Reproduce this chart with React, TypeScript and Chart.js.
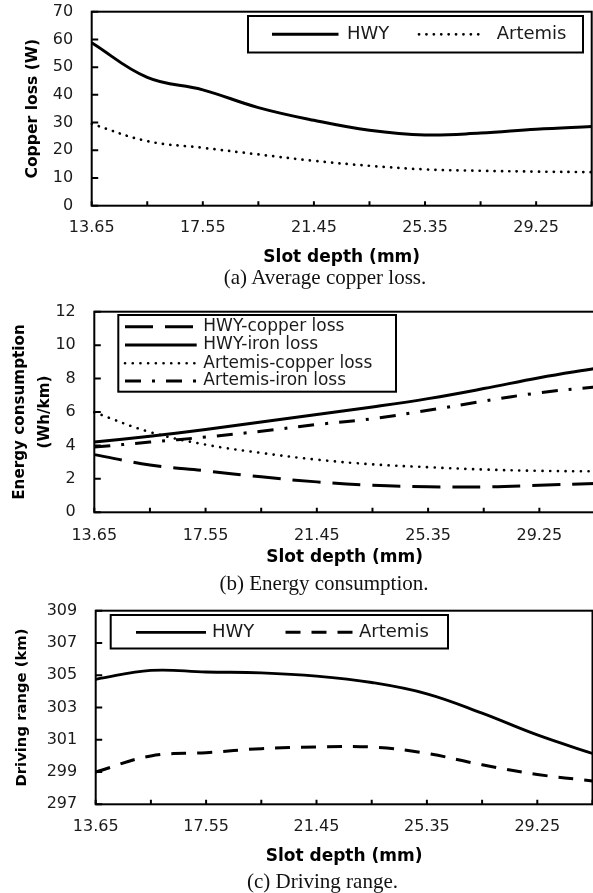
import React, { useEffect, useRef } from 'react';
import { Chart, registerables } from 'chart.js';

Chart.register(...registerables);

// ---------- data ----------
const xLabels = ['13.65', '15.60', '17.55', '19.50', '21.45', '23.40', '25.35', '27.30', '29.25', '31.20'];

// (a) average copper loss (W)
const hwyCopperLossW = [58.8, 46.3, 41.8, 35.4, 30.8, 27.2, 25.5, 26.2, 27.6, 28.6];
const artemisCopperLossW = [29.5, 23.3, 20.9, 18.5, 16.2, 14.4, 13.1, 12.6, 12.3, 12.1];

// (b) energy consumption (Wh/km)
const hwyCopperEnergy = [3.45, 2.83, 2.48, 2.12, 1.82, 1.62, 1.53, 1.52, 1.62, 1.73];
const hwyIronEnergy = [4.2, 4.55, 4.95, 5.4, 5.85, 6.3, 6.8, 7.4, 8.05, 8.6];
const artemisCopperEnergy = [5.98, 4.8, 4.05, 3.55, 3.15, 2.87, 2.7, 2.56, 2.48, 2.45];
const artemisIronEnergy = [3.9, 4.2, 4.5, 4.85, 5.25, 5.6, 6.1, 6.65, 7.15, 7.5];

// (c) driving range (km)
const hwyRange = [304.75, 305.3, 305.2, 305.15, 304.95, 304.55, 303.85, 302.65, 301.3, 300.15];
const artemisRange = [299.0, 300.0, 300.2, 300.45, 300.55, 300.55, 300.15, 299.45, 298.85, 298.45];

const xTitle = 'Slot depth (mm)';

// ---------- styles ----------
const SANS = "'DejaVu Sans', 'Liberation Sans', sans-serif";
const SERIF = "'Liberation Serif', 'Times New Roman', serif";
const INK = '#1a1a1a';

const frameTicks = {
  id: 'frameTicks',
  afterDatasetsDraw(chart: any) {
    const { ctx, chartArea: ca, scales } = chart;
    const x = scales.x;
    const y = scales.y;
    ctx.save();
    ctx.strokeStyle = '#000';
    ctx.lineWidth = 2;
    ctx.setLineDash([]);
    ctx.lineCap = 'butt';
    ctx.strokeRect(ca.left, ca.top, ca.right - ca.left, ca.bottom - ca.top);
    ctx.beginPath();
    x.ticks.forEach((_: any, i: number) => {
      const px = x.getPixelForTick(i);
      ctx.moveTo(px, ca.bottom);
      ctx.lineTo(px, ca.bottom - 4.5);
    });
    y.ticks.forEach((_: any, i: number) => {
      const py = y.getPixelForTick(i);
      ctx.moveTo(ca.left, py);
      ctx.lineTo(ca.left + 6.5, py);
    });
    ctx.stroke();
    ctx.restore();
  },
};

type LegendItem = { x0: number; x1: number; tx: number; y: number };
type LegendSpec = { box: [number, number, number, number]; fontSize: number; items: LegendItem[] };

function makeLegend(spec: LegendSpec) {
  return {
    id: 'boxLegend',
    afterDraw(chart: any) {
      const { ctx } = chart;
      const [x1, y1, x2, y2] = spec.box;
      ctx.save();
      ctx.fillStyle = '#fff';
      ctx.fillRect(x1, y1, x2 - x1, y2 - y1);
      ctx.strokeStyle = '#000';
      ctx.lineWidth = 2;
      ctx.setLineDash([]);
      ctx.strokeRect(x1, y1, x2 - x1, y2 - y1);
      ctx.font = `${spec.fontSize}px ${SANS}`;
      ctx.textBaseline = 'middle';
      ctx.textAlign = 'left';
      spec.items.forEach((it, i) => {
        const ds = chart.data.datasets[i];
        ctx.beginPath();
        ctx.strokeStyle = '#000';
        ctx.lineWidth = ds.borderWidth;
        ctx.lineCap = ds.borderCapStyle || 'butt';
        ctx.setLineDash(ds.borderDash || []);
        ctx.lineDashOffset = 0;
        ctx.moveTo(it.x0, it.y);
        ctx.lineTo(it.x1, it.y);
        ctx.stroke();
        ctx.setLineDash([]);
        ctx.fillStyle = INK;
        ctx.fillText(ds.label, it.tx, it.y);
      });
      ctx.restore();
    },
  };
}

type PanelSpec = {
  top: number;
  width: number;
  height: number;
  padding: { top: number; right: number; bottom: number; left: number };
  yWidth: number;
  xHeight: number;
  xTickPad: number;
  xTitlePadBottom: number;
  yMin: number;
  yMax: number;
  yStep: number;
  yTitle: string | string[];
  yTitleSize: number;
  yTitlePad: number;
  yTitleLH: number;
  datasets: any[];
  legend: LegendSpec;
};

function Panel({ spec }: { spec: PanelSpec }) {
  const ref = useRef<HTMLCanvasElement | null>(null);
  useEffect(() => {
    const canvas = ref.current;
    if (!canvas) return;
    const chart = new Chart(canvas, {
      type: 'line',
      data: {
        labels: xLabels,
        datasets: spec.datasets.map((d) => ({
          borderColor: '#000',
          backgroundColor: '#000',
          pointRadius: 0,
          pointHoverRadius: 0,
          fill: false,
          tension: 0.4,
          borderCapStyle: 'butt',
          ...d,
        })),
      },
      options: {
        responsive: false,
        animation: false,
        events: [],
        layout: { padding: spec.padding },
        plugins: { legend: { display: false }, tooltip: { enabled: false } },
        scales: {
          x: {
            type: 'category',
            offset: false,
            grid: { display: false, drawTicks: false },
            border: { display: false },
            ticks: {
              autoSkip: false,
              maxRotation: 0,
              minRotation: 0,
              padding: spec.xTickPad,
              color: INK,
              font: { family: SANS, size: 16 },
              callback: (_v: any, i: number) => (i % 2 === 0 ? xLabels[i] : ''),
            },
            title: {
              display: true,
              text: xTitle,
              color: '#000',
              font: { family: SANS, size: 17, weight: 'bold' },
              padding: { top: 0, bottom: spec.xTitlePadBottom },
            },
            afterFit: (s: any) => {
              s.height = spec.xHeight;
              s.paddingLeft = 0;
              s.paddingRight = 0;
            },
          },
          y: {
            type: 'linear',
            min: spec.yMin,
            max: spec.yMax,
            grid: { display: false, drawTicks: false },
            border: { display: false },
            ticks: {
              stepSize: spec.yStep,
              padding: 18.5,
              color: INK,
              font: { family: SANS, size: 16 },
            },
            title: {
              display: true,
              text: spec.yTitle,
              color: '#000',
              font: { family: SANS, size: spec.yTitleSize, weight: 'bold', lineHeight: spec.yTitleLH },
              padding: { top: spec.yTitlePad, bottom: 0 },
            },
            afterFit: (s: any) => {
              s.width = spec.yWidth;
              s.paddingTop = 0;
              s.paddingBottom = 0;
            },
          },
        },
      } as any,
      plugins: [frameTicks, makeLegend(spec.legend)],
    } as any);
    return () => chart.destroy();
  }, []);
  return (
    <canvas
      ref={ref}
      width={spec.width}
      height={spec.height}
      style={{ position: 'absolute', left: 0, top: spec.top, width: spec.width + 'px', height: spec.height + 'px' }}
    />
  );
}

const panelA: PanelSpec = {
  top: 0,
  width: 593,
  height: 271,
  padding: { top: 11.7, right: 1.3, bottom: 0, left: 0 },
  yWidth: 91.7,
  xHeight: 65.3,
  xTickPad: 12.5,
  xTitlePadBottom: 3.6,
  yMin: 0,
  yMax: 70,
  yStep: 10,
  yTitle: 'Copper loss (W)',
  yTitleSize: 15.6,
  yTitlePad: 23.6,
  yTitleLH: 1.2,
  datasets: [
    { label: 'HWY', data: hwyCopperLossW, borderWidth: 3 },
    { label: 'Artemis', data: artemisCopperLossW, borderWidth: 2.7, borderDash: [0.1, 7.3], borderCapStyle: 'round' },
  ],
  legend: {
    box: [248, 16, 583, 52.5],
    fontSize: 18,
    items: [
      { x0: 272, x1: 338.5, tx: 347, y: 34.3 },
      { x0: 419, x1: 484, tx: 496.7, y: 34.3 },
    ],
  },
};

const panelB: PanelSpec = {
  top: 290,
  width: 600,
  height: 290,
  padding: { top: 21.7, right: 5, bottom: 0, left: 0 },
  yWidth: 94.3,
  xHeight: 67.7,
  xTickPad: 13.5,
  xTitlePadBottom: 12,
  yMin: 0,
  yMax: 12,
  yStep: 2,
  yTitle: ['Energy consumption', '(Wh/km)'],
  yTitleSize: 15.2,
  yTitlePad: 7.5,
  yTitleLH: 25 / 15.2,
  datasets: [
    { label: 'HWY-copper loss', data: hwyCopperEnergy, borderWidth: 3, borderDash: [28, 12] },
    { label: 'HWY-iron loss', data: hwyIronEnergy, borderWidth: 3 },
    { label: 'Artemis-copper loss', data: artemisCopperEnergy, borderWidth: 2.6, borderDash: [0.1, 7.6], borderCapStyle: 'round' },
    { label: 'Artemis-iron loss', data: artemisIronEnergy, borderWidth: 3, borderDash: [16, 11, 3, 11] },
  ],
  legend: {
    box: [118.3, 25, 396, 101.7],
    fontSize: 17,
    items: [
      { x0: 125, x1: 196.7, tx: 203.3, y: 36.7 },
      { x0: 125, x1: 196.7, tx: 203.3, y: 55 },
      { x0: 125, x1: 196.7, tx: 203.3, y: 73.3 },
      { x0: 125, x1: 196.7, tx: 203.3, y: 91 },
    ],
  },
};

const panelC: PanelSpec = {
  top: 590,
  width: 593,
  height: 280,
  padding: { top: 20.7, right: 0.5, bottom: 0, left: 0 },
  yWidth: 95.7,
  xHeight: 65.7,
  xTickPad: 13.3,
  xTitlePadBottom: 2.8,
  yMin: 297,
  yMax: 309,
  yStep: 2,
  yTitle: 'Driving range (km)',
  yTitleSize: 14.8,
  yTitlePad: 12.8,
  yTitleLH: 1.2,
  datasets: [
    { label: 'HWY', data: hwyRange, borderWidth: 2.8 },
    { label: 'Artemis', data: artemisRange, borderWidth: 3, borderDash: [15, 11] },
  ],
  legend: {
    box: [110.7, 25, 448, 58.5],
    fontSize: 18,
    items: [
      { x0: 136, x1: 206, tx: 212, y: 42.3 },
      { x0: 285.5, x1: 353.6, tx: 359, y: 42.3 },
    ],
  },
};

function Caption({ cx, cy, text }: { cx: number; cy: number; text: string }) {
  return (
    <div
      style={{
        position: 'absolute',
        left: cx - 200,
        top: cy - 12,
        width: 400,
        height: 24,
        lineHeight: '24px',
        textAlign: 'center',
        fontFamily: SERIF,
        fontSize: 21,
        color: '#111',
        whiteSpace: 'nowrap',
      }}
    >
      {text}
    </div>
  );
}

export default function App() {
  return (
    <div
      style={{
        position: 'absolute',
        left: 0,
        top: 0,
        width: 593,
        height: 893,
        overflow: 'hidden',
        background: '#fff',
      }}
    >
      <Panel spec={panelA} />
      <Panel spec={panelB} />
      <Panel spec={panelC} />
      <Caption cx={325} cy={277} text="(a) Average copper loss." />
      <Caption cx={324} cy={583} text="(b) Energy consumption." />
      <Caption cx={322.5} cy={881} text="(c) Driving range." />
    </div>
  );
}
